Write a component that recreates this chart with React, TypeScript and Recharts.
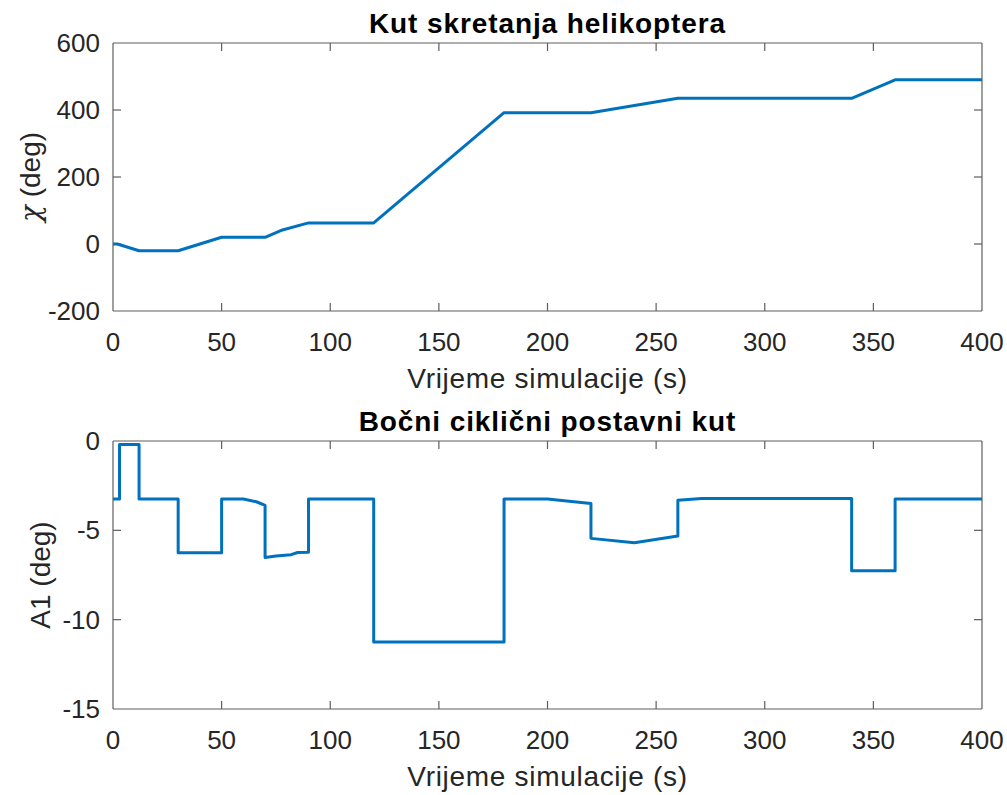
import { LineChart, Line, XAxis, YAxis, ReferenceLine } from 'recharts';

// Kut skretanja (top plot)
const chiTime = [0, 2, 12, 30, 50, 70, 78, 90, 120, 180, 220, 260, 340, 360, 400];
const chiDeg = [0, 0, -20, -20, 20, 20, 42, 63, 63, 392, 392, 435, 435, 490, 490];

// Bočni ciklični postavni kut (bottom plot)
const a1Time = [
  0, 3, 3, 12, 12, 30, 30, 50, 50, 60, 66, 70, 70, 75, 82, 85, 90, 90, 120, 120,
  180, 180, 200, 220, 220, 240, 260, 260, 271, 340, 340, 360, 360, 400,
];
const a1Deg = [
  -3.25, -3.25, -0.2, -0.2, -3.25, -3.25, -6.25, -6.25, -3.25, -3.25, -3.4, -3.6, -6.52, -6.44, -6.36, -6.24, -6.22, -3.25, -3.25, -11.25,
  -11.25, -3.25, -3.25, -3.5, -5.45, -5.69, -5.32, -3.32, -3.22, -3.22, -7.26, -7.26, -3.25, -3.25,
];

const xTicks = [0, 50, 100, 150, 200, 250, 300, 350, 400];
const chiTicks = [-200, 0, 200, 400, 600];
const a1Ticks = [-15, -10, -5, 0];

const topData = chiTime.map((t, i) => ({ t, v: chiDeg[i] }));
const bottomData = a1Time.map((t, i) => ({ t, v: a1Deg[i] }));

const FONT = '"Liberation Sans", Arial, Helvetica, sans-serif';
const INK = '#262626';
const FRAME = '#5e5e5e';
const BLUE = '#0072BD';
const TICK = 8;

const BottomTickText = (p: any) => (
  <text x={p.x} y={p.y + 40} textAnchor="middle" fontSize={26} fill={INK} fontFamily={FONT}>
    {p.payload.value}
  </text>
);
const LeftTickText = (p: any) => (
  <text x={p.x - 13} y={p.y + 9} textAnchor="end" fontSize={26} fill={INK} fontFamily={FONT}>
    {p.payload.value}
  </text>
);

// short inward marks at both ends of a reference line (MATLAB box ticks)
const TickMarks = (p: any) => {
  const { x1, y1, x2, y2 } = p;
  const len = Math.hypot(x2 - x1, y2 - y1) || 1;
  const ux = ((x2 - x1) / len) * TICK;
  const uy = ((y2 - y1) / len) * TICK;
  return (
    <g>
      <line x1={x1} y1={y1} x2={x1 + ux} y2={y1 + uy} stroke={FRAME} strokeWidth={1.2} />
      <line x1={x2} y1={y2} x2={x2 - ux} y2={y2 - uy} stroke={FRAME} strokeWidth={1.2} />
    </g>
  );
};

const titleLabel = (text: string) => (props: any) => {
  const vb = props.viewBox || {};
  return (
    <text
      x={vb.x + vb.width / 2}
      y={vb.y - 10}
      textAnchor="middle"
      fontSize={28}
      fontWeight="bold"
      letterSpacing={0.9}
      fill="#000"
      fontFamily={FONT}
    >
      {text}
    </text>
  );
};

const xLabel = (props: any) => {
  const vb = props.viewBox || {};
  return (
    <text
      x={vb.x + vb.width / 2}
      y={vb.y + 77}
      textAnchor="middle"
      fontSize={28}
      letterSpacing={0.7}
      fill={INK}
      fontFamily={FONT}
    >
      Vrijeme simulacije (s)
    </text>
  );
};

const yLabel = (text: string, cx: number, greek?: string) => (props: any) => {
  const vb = props.viewBox || {};
  const cy = vb.y + vb.height / 2;
  return (
    <text
      x={cx}
      y={cy}
      transform={`rotate(-90 ${cx} ${cy})`}
      textAnchor="middle"
      dominantBaseline="central"
      fontSize={28}
      fill={INK}
      fontFamily={FONT}
    >
      {greek ? <tspan fontFamily='"DejaVu Serif", "Liberation Serif", serif' fontStyle="italic">{greek}</tspan> : null}
      {text}
    </text>
  );
};

type PanelProps = {
  data: { t: number; v: number }[];
  height: number;
  top: number;
  xAxisHeight: number;
  yDomain: [number, number];
  yTicks: number[];
  title: string;
  ylabel: string;
  ylabelX: number;
  greek?: string;
};

const Panel = ({ data, height, top, xAxisHeight, yDomain, yTicks, title, ylabel, ylabelX, greek }: PanelProps) => (
  <LineChart width={1007} height={height} data={data} margin={{ top, right: 25, bottom: 0, left: 0 }}>
    <XAxis
      dataKey="t"
      type="number"
      domain={[0, 400]}
      ticks={xTicks}
      allowDataOverflow
      height={xAxisHeight}
      tickSize={0}
      tickMargin={0}
      tickLine={false}
      tick={BottomTickText}
      axisLine={{ stroke: FRAME, strokeWidth: 1.2 }}
      label={xLabel}
    />
    <YAxis
      type="number"
      domain={yDomain}
      ticks={yTicks}
      allowDataOverflow
      width={113}
      tickSize={0}
      tickMargin={0}
      tickLine={false}
      tick={LeftTickText}
      axisLine={{ stroke: FRAME, strokeWidth: 1.2 }}
      label={yLabel(ylabel, ylabelX, greek)}
    />
    {/* box: top and right edges */}
    <ReferenceLine y={yDomain[1]} stroke={FRAME} strokeWidth={1.2} label={titleLabel(title)} />
    <ReferenceLine x={400} stroke={FRAME} strokeWidth={1.2} />
    {xTicks.slice(1, -1).map((t) => (
      <ReferenceLine key={`xt${t}`} x={t} shape={TickMarks} />
    ))}
    {yTicks.slice(1, -1).map((v) => (
      <ReferenceLine key={`yt${v}`} y={v} shape={TickMarks} />
    ))}
    <Line
      dataKey="v"
      type="linear"
      stroke={BLUE}
      strokeWidth={3}
      strokeLinejoin="round"
      dot={false}
      activeDot={false}
      isAnimationActive={false}
    />
  </LineChart>
);

export default function App() {
  return (
    <div style={{ position: 'absolute', left: 0, top: 0, width: 1007, height: 795, background: '#fff' }}>
      <Panel
        data={topData}
        height={395}
        top={43}
        xAxisHeight={84}
        yDomain={[-200, 600]}
        yTicks={chiTicks}
        title="Kut skretanja helikoptera"
        ylabel=" (deg)"
        greek="χ"
        ylabelX={30}
      />
      <Panel
        data={bottomData}
        height={400}
        top={46}
        xAxisHeight={86}
        yDomain={[-15, 0]}
        yTicks={a1Ticks}
        title="Bočni ciklični postavni kut"
        ylabel="A1 (deg)"
        ylabelX={40}
      />
    </div>
  );
}
